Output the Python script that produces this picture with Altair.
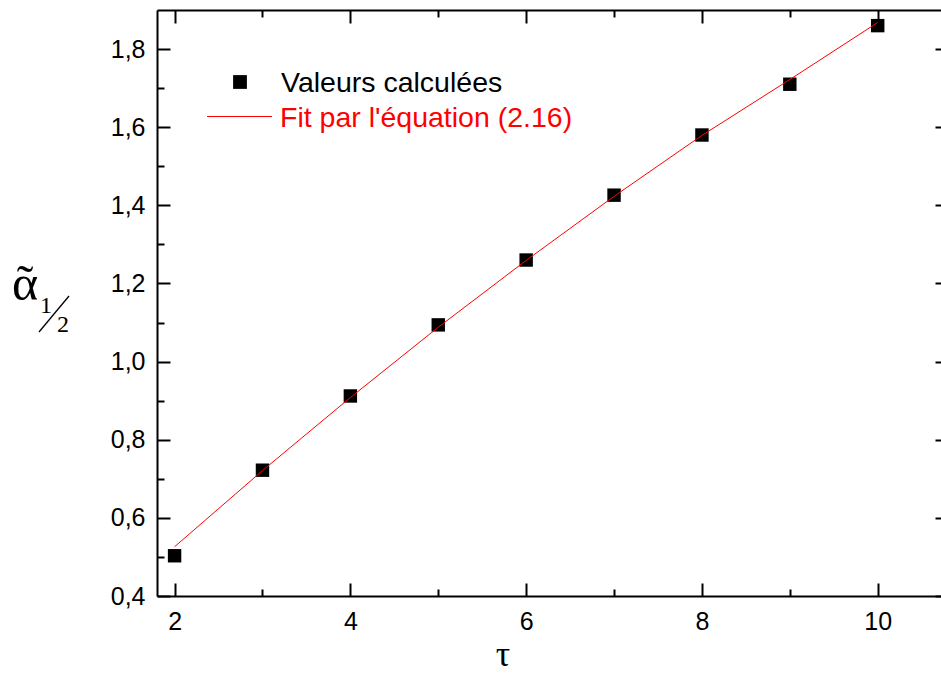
import altair as alt
import pandas as pd

# ---- data ----
tau = [2, 3, 4, 5, 6, 7, 8, 9, 10]
alpha_calc = [0.503, 0.722, 0.912, 1.094, 1.260, 1.426, 1.580, 1.710, 1.860]
alpha_fit = [0.526, 0.721, 0.908, 1.088, 1.259, 1.423, 1.579, 1.722, 1.868]

x_major = [2, 4, 6, 8, 10]
x_minor = [3, 5, 7, 9]
y_major = [0.4, 0.6, 0.8, 1.0, 1.2, 1.4, 1.6, 1.8]
y_minor = [0.5, 0.7, 0.9, 1.1, 1.3, 1.5, 1.7]

legend_labels = ["Valeurs calculées", "Fit par l'équation (2.16)"]
x_title = "τ"
y_title = "α"
y_title_accent = "˜"

df = pd.DataFrame({"tau": tau, "calc": alpha_calc, "fit": alpha_fit})
one = pd.DataFrame({"k": [0]})

XD = [1.8, 10.72]
YD = [0.4, 1.9]
W, H = 784, 586
SANS = "Liberation Sans"
SERIF = "Liberation Serif"

base_axis = dict(grid=False, domain=False, labels=False, ticks=True,
                 tickColor="black", tickWidth=2, title=None)


def X(field="tau", **kw):
    ax = dict(base_axis)
    ax.update(kw)
    return alt.X(f"{field}:Q", scale=alt.Scale(domain=XD, nice=False, zero=False),
                 axis=alt.Axis(**ax))


def Y(field, **kw):
    ax = dict(base_axis)
    ax.update(kw)
    return alt.Y(f"{field}:Q", scale=alt.Scale(domain=YD, nice=False, zero=False),
                 axis=alt.Axis(**ax))


def Ynone(field):
    return alt.Y(f"{field}:Q", scale=alt.Scale(domain=YD, nice=False, zero=False), axis=None)


label_style = dict(labels=True, labelFont=SANS, labelFontSize=25, labelColor="black",
                   labelOverlap=False, labelFlush=False)

# layer A: data points + major labelled axes (bottom, left)
pts = alt.Chart(df).mark_square(size=180, color="black", opacity=1).encode(
    x=X(orient="bottom", values=x_major, tickSize=13, offset=-13, format="d",
        labelPadding=13, **label_style),
    y=Y("calc", orient="left", values=y_major, tickSize=13, offset=-13,
        labelPadding=12, labelExpr="replace(format(datum.value, '.1f'), '.', ',')",
        **label_style),
)

# layer B: fit line + minor ticks (bottom, left)
fit = alt.Chart(df).mark_line(color="#ff0000", strokeWidth=1).encode(
    x=X(orient="bottom", values=x_minor, tickSize=7, offset=-7),
    y=Y("fit", orient="left", values=y_minor, tickSize=7, offset=-7),
)

# layer C: top major / right major ticks
c_layer = alt.Chart(df).mark_point(opacity=0).encode(
    x=X(orient="top", values=x_major, tickSize=13, offset=-13),
    y=Y("calc", orient="right", values=y_major, tickSize=6, offset=-6),
)

# layer D: top minor ticks / left border line
d_layer = alt.Chart(df).mark_point(opacity=0).encode(
    x=X(orient="top", values=x_minor, tickSize=7, offset=-7),
    y=Y("calc", orient="left", ticks=False, domain=True, domainColor="black",
        domainWidth=2),
)

# layer E: bottom border line
e_layer = alt.Chart(df).mark_point(opacity=0).encode(
    x=X(orient="bottom", ticks=False, domain=True, domainColor="black", domainWidth=2),
    y=Ynone("calc"),
)

# layer F: top border line
f_layer = alt.Chart(df).mark_point(opacity=0).encode(
    x=X(orient="top", ticks=False, domain=True, domainColor="black", domainWidth=2),
    y=Ynone("calc"),
)

# legend (drawn inside the plot)
leg_sq = alt.Chart(one).mark_square(size=190, color="black", opacity=1).encode(
    x=alt.value(83), y=alt.value(72))
leg_line = alt.Chart(one).mark_rule(color="#ff0000", strokeWidth=1).encode(
    x=alt.value(50), x2=alt.value(115), y=alt.value(106.5))
leg_t1 = alt.Chart(one).mark_text(text=legend_labels[0], font=SANS, fontSize=28.5,
                                  color="black", align="left", baseline="alphabetic").encode(
    x=alt.value(124), y=alt.value(82))
leg_t2 = alt.Chart(one).mark_text(text=legend_labels[1], font=SANS, fontSize=28.5,
                                  color="#ff0000", align="left", baseline="alphabetic").encode(
    x=alt.value(123), y=alt.value(117))

# axis titles
t_tau = alt.Chart(one).mark_text(text=x_title, font=SERIF, fontSize=36, color="black",
                                 align="center", baseline="alphabetic").encode(
    x=alt.value(346), y=alt.value(656))
t_alpha = alt.Chart(one).mark_text(text=y_title, font=SERIF, fontSize=50, color="black",
                                   align="center", baseline="alphabetic").encode(
    x=alt.value(-132), y=alt.value(290))
t_tilde = alt.Chart(one).mark_text(text=y_title_accent, font=SERIF, fontSize=50, color="black",
                                   align="center", baseline="alphabetic").encode(
    x=alt.value(-132), y=alt.value(290))
t_one = alt.Chart(one).mark_text(text="1", font=SERIF, fontSize=24, color="black",
                                 align="center", baseline="alphabetic").encode(
    x=alt.value(-111), y=alt.value(303))
t_two = alt.Chart(one).mark_text(text="2", font=SERIF, fontSize=24, color="black",
                                 align="center", baseline="alphabetic").encode(
    x=alt.value(-94), y=alt.value(322))
t_slash = alt.Chart(one).mark_rule(color="black", strokeWidth=1.3).encode(
    x=alt.value(-118), y=alt.value(322), x2=alt.value(-88), y2=alt.value(286))

chart = alt.layer(
    pts, fit, c_layer, d_layer, e_layer, f_layer,
    leg_sq, leg_line, leg_t1, leg_t2,
    t_tau, t_alpha, t_tilde, t_one, t_two, t_slash,
).resolve_axis(x="independent", y="independent").properties(
    width=W, height=H,
    autosize=alt.AutoSizeParams(type="none"),
    padding={"left": 157, "top": 10, "right": 0, "bottom": 92},
    background="white",
).configure_view(stroke=None)

chart.save("out.html", embed_options={"renderer": "svg", "actions": False})
